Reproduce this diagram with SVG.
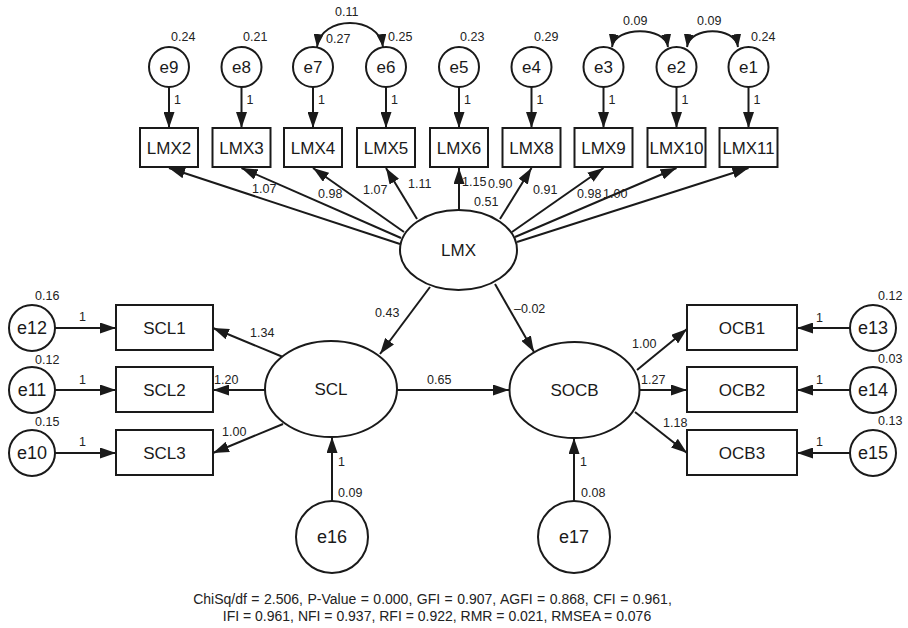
<svg xmlns="http://www.w3.org/2000/svg" width="908" height="628" viewBox="0 0 908 628">
<defs>
<style>
.n{fill:#fff;stroke:#1a1a1a;stroke-width:2}
.c{stroke:#1a1a1a;stroke-width:2;fill:none}
.t{font-family:"Liberation Sans",Arial,sans-serif;font-size:17px;fill:#1a1a1a;text-anchor:middle}
.tb{font-family:"Liberation Sans",Arial,sans-serif;font-size:18px;fill:#1a1a1a;text-anchor:middle}
.l{font-family:"Liberation Sans",Arial,sans-serif;font-size:12.5px;fill:#222}
.f{font-family:"Liberation Sans",Arial,sans-serif;font-size:14px;fill:#222}
</style>
<marker id="a" viewBox="0 0 16 11" refX="16" refY="5.5" markerWidth="16" markerHeight="11" markerUnits="userSpaceOnUse" orient="auto-start-reverse"><path d="M0,0 L16,5.5 L0,11 z" fill="#1a1a1a"/></marker>
<marker id="s" viewBox="0 0 13 10" refX="13" refY="5" markerWidth="13" markerHeight="10" markerUnits="userSpaceOnUse" orient="auto-start-reverse"><path d="M0,0 L13,5 L0,10 z" fill="#1a1a1a"/></marker>
</defs>
<rect width="908" height="628" fill="#fff"/>

<g id="connectors">
<line class="c" x1="169" y1="87" x2="169" y2="128" marker-end="url(#a)"/>
<line class="c" x1="241.5" y1="87" x2="241.5" y2="128" marker-end="url(#a)"/>
<line class="c" x1="313" y1="87" x2="313" y2="128" marker-end="url(#a)"/>
<line class="c" x1="386" y1="87" x2="386" y2="128" marker-end="url(#a)"/>
<line class="c" x1="459" y1="87" x2="459" y2="128" marker-end="url(#a)"/>
<line class="c" x1="531.5" y1="87" x2="531.5" y2="128" marker-end="url(#a)"/>
<line class="c" x1="603.5" y1="87" x2="603.5" y2="128" marker-end="url(#a)"/>
<line class="c" x1="676.5" y1="87" x2="676.5" y2="128" marker-end="url(#a)"/>
<line class="c" x1="748.5" y1="87" x2="748.5" y2="128" marker-end="url(#a)"/>
<path class="c" d="M317,47 C321,15 379,15 383,47" marker-start="url(#s)" marker-end="url(#s)"/>
<path class="c" d="M612,47 C615,26 665,26 668,47" marker-start="url(#s)" marker-end="url(#s)"/>
<path class="c" d="M687,47 C690,26 735,26 738,47" marker-start="url(#s)" marker-end="url(#s)"/>
<line class="c" x1="400" y1="244" x2="169" y2="168" marker-end="url(#a)"/>
<line class="c" x1="401" y1="238" x2="241.5" y2="168" marker-end="url(#a)"/>
<line class="c" x1="404" y1="232" x2="313" y2="168" marker-end="url(#a)"/>
<line class="c" x1="417" y1="219" x2="386" y2="168" marker-end="url(#a)"/>
<line class="c" x1="459" y1="210" x2="459" y2="168" marker-end="url(#a)"/>
<line class="c" x1="500" y1="219" x2="531.5" y2="168" marker-end="url(#a)"/>
<line class="c" x1="512" y1="232" x2="603.5" y2="168" marker-end="url(#a)"/>
<line class="c" x1="515" y1="237" x2="676.5" y2="168" marker-end="url(#a)"/>
<line class="c" x1="517" y1="242" x2="748.5" y2="168" marker-end="url(#a)"/>
<line class="c" x1="430" y1="287" x2="380" y2="354" marker-end="url(#a)"/>
<line class="c" x1="495" y1="284" x2="534" y2="352" marker-end="url(#a)"/>
<line class="c" x1="397" y1="390" x2="509" y2="390" marker-end="url(#a)"/>
<line class="c" x1="283" y1="357" x2="213" y2="328" marker-end="url(#a)"/>
<line class="c" x1="265" y1="390" x2="213" y2="390" marker-end="url(#a)"/>
<line class="c" x1="283" y1="424" x2="213" y2="453" marker-end="url(#a)"/>
<line class="c" x1="55" y1="328" x2="116" y2="328" marker-end="url(#a)"/>
<line class="c" x1="55" y1="390" x2="116" y2="390" marker-end="url(#a)"/>
<line class="c" x1="55" y1="453" x2="116" y2="453" marker-end="url(#a)"/>
<line class="c" x1="637" y1="370" x2="687" y2="329" marker-end="url(#a)"/>
<line class="c" x1="640" y1="390" x2="687" y2="390" marker-end="url(#a)"/>
<line class="c" x1="635" y1="412" x2="687" y2="453" marker-end="url(#a)"/>
<line class="c" x1="850" y1="328" x2="797" y2="328" marker-end="url(#a)"/>
<line class="c" x1="850" y1="390" x2="797" y2="390" marker-end="url(#a)"/>
<line class="c" x1="850" y1="453" x2="797" y2="453" marker-end="url(#a)"/>
<line class="c" x1="332" y1="501" x2="332" y2="437" marker-end="url(#a)"/>
<line class="c" x1="574" y1="501" x2="574" y2="438" marker-end="url(#a)"/>
</g>

<g id="labels">
<g class="l">
<text x="174" y="104">1</text><text x="246.5" y="104">1</text><text x="318" y="104">1</text><text x="391" y="104">1</text><text x="464" y="104">1</text><text x="536.5" y="104">1</text><text x="608.5" y="104">1</text><text x="681.5" y="104">1</text><text x="753.5" y="104">1</text>
<text x="171" y="41">0.24</text><text x="243" y="41">0.21</text><text x="326" y="43">0.27</text><text x="388" y="41">0.25</text><text x="460" y="41">0.23</text><text x="534" y="41">0.29</text><text x="751" y="41">0.24</text>
<text x="335" y="16">0.11</text><text x="623" y="25">0.09</text><text x="697" y="25">0.09</text>
<text x="252" y="193">1.07</text><text x="318" y="198">0.98</text><text x="363" y="194">1.07</text><text x="408" y="188">1.11</text><text x="462" y="186">1.15</text><text x="488" y="188">0.90</text><text x="474" y="206">0.51</text><text x="533" y="194">0.91</text><text x="577" y="198">0.98</text><text x="603" y="198">1.00</text>
<text x="375" y="317">0.43</text><text x="514" y="313">–0.02</text><text x="427" y="384">0.65</text>
<text x="250" y="337">1.34</text><text x="214" y="384">1.20</text><text x="222" y="436">1.00</text>
<text x="632" y="348">1.00</text><text x="641" y="384">1.27</text><text x="663" y="427">1.18</text>
<text x="79" y="321">1</text><text x="79" y="384">1</text><text x="79" y="446">1</text>
<text x="35" y="300">0.16</text><text x="35" y="364">0.12</text><text x="35" y="426">0.15</text>
<text x="816" y="322">1</text><text x="816" y="384">1</text><text x="816" y="446">1</text>
<text x="878" y="300">0.12</text><text x="878" y="363">0.03</text><text x="878" y="425">0.13</text>
<text x="338" y="466">1</text><text x="338" y="497">0.09</text><text x="580" y="466">1</text><text x="581" y="497">0.08</text>
</g>
</g>

<g id="e9"><circle class="n" cx="169" cy="67" r="20"/><text class="t" x="169" y="73">e9</text></g>
<g id="e8"><circle class="n" cx="241.5" cy="67" r="20"/><text class="t" x="241.5" y="73">e8</text></g>
<g id="e7"><circle class="n" cx="313" cy="67" r="20"/><text class="t" x="313" y="73">e7</text></g>
<g id="e6"><circle class="n" cx="386" cy="67" r="20"/><text class="t" x="386" y="73">e6</text></g>
<g id="e5"><circle class="n" cx="459" cy="67" r="20"/><text class="t" x="459" y="73">e5</text></g>
<g id="e4"><circle class="n" cx="531.5" cy="67" r="20"/><text class="t" x="531.5" y="73">e4</text></g>
<g id="e3"><circle class="n" cx="603.5" cy="67" r="20"/><text class="t" x="603.5" y="73">e3</text></g>
<g id="e2"><circle class="n" cx="676.5" cy="67" r="20"/><text class="t" x="676.5" y="73">e2</text></g>
<g id="e1"><circle class="n" cx="748.5" cy="67" r="20"/><text class="t" x="748.5" y="73">e1</text></g>

<g id="LMX2"><rect class="n" x="140" y="128" width="58" height="39"/><text class="t" x="169" y="154">LMX2</text></g>
<g id="LMX3"><rect class="n" x="212.5" y="128" width="58" height="39"/><text class="t" x="241.5" y="154">LMX3</text></g>
<g id="LMX4"><rect class="n" x="284" y="128" width="58" height="39"/><text class="t" x="313" y="154">LMX4</text></g>
<g id="LMX5"><rect class="n" x="357" y="128" width="58" height="39"/><text class="t" x="386" y="154">LMX5</text></g>
<g id="LMX6"><rect class="n" x="430" y="128" width="58" height="39"/><text class="t" x="459" y="154">LMX6</text></g>
<g id="LMX8"><rect class="n" x="502.5" y="128" width="58" height="39"/><text class="t" x="531.5" y="154">LMX8</text></g>
<g id="LMX9"><rect class="n" x="574.5" y="128" width="58" height="39"/><text class="t" x="603.5" y="154">LMX9</text></g>
<g id="LMX10"><rect class="n" x="647.5" y="128" width="58" height="39"/><text class="t" x="676.5" y="154" textLength="54" lengthAdjust="spacingAndGlyphs">LMX10</text></g>
<g id="LMX11"><rect class="n" x="719.5" y="128" width="58" height="39"/><text class="t" x="748.5" y="154" textLength="52" lengthAdjust="spacingAndGlyphs">LMX11</text></g>

<g id="LMX"><ellipse class="n" cx="458.5" cy="250" rx="58.5" ry="40"/><text class="t" x="458.5" y="256">LMX</text></g>
<g id="SCL"><ellipse class="n" cx="331" cy="389" rx="66" ry="48"/><text class="t" x="331" y="395">SCL</text></g>
<g id="SOCB"><ellipse class="n" cx="574.5" cy="390" rx="65" ry="48"/><text class="t" x="574.5" y="396">SOCB</text></g>

<g id="SCL1"><rect class="n" x="116" y="305" width="97" height="45"/><text class="t" x="164.5" y="334">SCL1</text></g>
<g id="SCL2"><rect class="n" x="116" y="367" width="97" height="45"/><text class="t" x="164.5" y="396">SCL2</text></g>
<g id="SCL3"><rect class="n" x="116" y="430" width="97" height="45"/><text class="t" x="164.5" y="459">SCL3</text></g>
<g id="e12"><circle class="n" cx="32" cy="328" r="23"/><text class="tb" x="32" y="334">e12</text></g>
<g id="e11"><circle class="n" cx="32" cy="390" r="23"/><text class="tb" x="32" y="396">e11</text></g>
<g id="e10"><circle class="n" cx="32" cy="453" r="23"/><text class="tb" x="32" y="459">e10</text></g>

<g id="OCB1"><rect class="n" x="687" y="305" width="110" height="45"/><text class="t" x="742" y="334">OCB1</text></g>
<g id="OCB2"><rect class="n" x="687" y="367" width="110" height="45"/><text class="t" x="742" y="396">OCB2</text></g>
<g id="OCB3"><rect class="n" x="687" y="430" width="110" height="45"/><text class="t" x="742" y="459">OCB3</text></g>
<g id="e13"><circle class="n" cx="873" cy="328" r="23"/><text class="tb" x="873" y="334">e13</text></g>
<g id="e14"><circle class="n" cx="873" cy="390" r="23"/><text class="tb" x="873" y="396">e14</text></g>
<g id="e15"><circle class="n" cx="873" cy="453" r="23"/><text class="tb" x="873" y="459">e15</text></g>

<g id="e16"><circle class="n" cx="332" cy="537" r="36"/><text class="tb" x="332" y="543">e16</text></g>
<g id="e17"><circle class="n" cx="574" cy="537" r="36"/><text class="tb" x="574" y="543">e17</text></g>

<g id="fit" class="f">
<text x="432.5" y="603.5" text-anchor="middle" word-spacing="0.6">ChiSq/df = 2.506, P-Value = 0.000, GFI = 0.907, AGFI = 0.868, CFI = 0.961,</text>
<text x="437" y="620.5" text-anchor="middle">IFI = 0.961, NFI = 0.937, RFI = 0.922, RMR = 0.021, RMSEA = 0.076</text>
</g>
</svg>
